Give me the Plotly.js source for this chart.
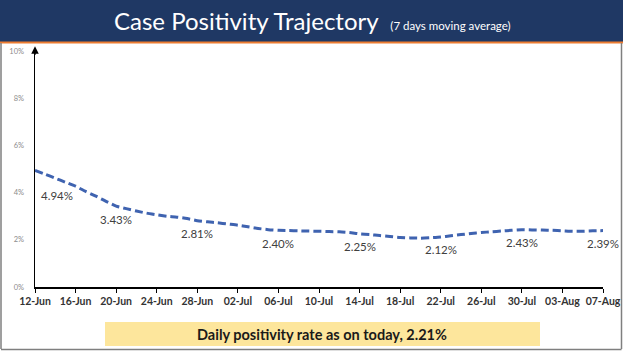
<!DOCTYPE html>
<html><head><meta charset="utf-8">
<script src="https://cdn.plot.ly/plotly-3.0.1.min.js"></script>
<style>html,body{margin:0;padding:0;background:#fff}#chart{width:623px;height:351px}</style>
</head><body><div id="chart"></div>
<script>
// Daily dates 12-Jun .. 07-Aug (2020)
const startDate = '2020-06-12';
const positivity = [4.94,4.78,4.61,4.44,4.27,4.05,3.85,3.63,3.43,3.32,3.22,3.13,3.06,3.00,2.96,2.90,2.81,2.76,2.72,2.67,2.62,2.55,2.48,2.43,2.40,2.39,2.38,2.37,2.36,2.35,2.34,2.31,2.25,2.22,2.18,2.14,2.10,2.08,2.07,2.09,2.12,2.17,2.22,2.27,2.31,2.34,2.37,2.40,2.43,2.42,2.41,2.40,2.38,2.36,2.36,2.38,2.39];
const labelIdx = [0,8,16,24,32,40,48,56];
const titleMain = 'Case Positivity Trajectory';
const titleSub = '(7 days moving average)';
const footerText = 'Daily positivity rate as on today, 2.21%';
const yTickVals = [0,2,4,6,8,10];
const yTickText = ['0%','2%','4%','6%','8%','10%'];

const DAY = 86400000;
const t0 = new Date(startDate + 'T00:00:00Z').getTime();
const dates = positivity.map((_, i) => new Date(t0 + i*DAY).toISOString().slice(0,10));

const W=623,H=351,L=35,R=20,T=51,B=64;
const pw=W-L-R, ph=H-T-B;
const px = x => (x-L)/pw;
const py = y => (H-B-y)/ph;

const annotations = labelIdx.map((i,k) => ({
  x: dates[i], y: positivity[i], xref:'x', yref:'y',
  text: positivity[i].toFixed(2)+'%', showarrow:false,
  xshift: k===0 ? 22 : 0, yshift: k===0 ? -25 : -13,
  font:{family:'Lato, sans-serif', size:11.5, color:'#404040'}
}));
annotations.push({
  xref:'paper', yref:'paper', x:px(312), y:py(21), xanchor:'center', yanchor:'middle', showarrow:false,
  text: titleMain + '  <span style="font-size:11.5px">' + titleSub + '</span>',
  font:{family:'Lato, sans-serif', size:24, color:'#ffffff'}
});
annotations.push({
  xref:'paper', yref:'paper', x:px(322), y:py(334), xanchor:'center', yanchor:'middle', showarrow:false,
  text: '<b>'+footerText+'</b>',
  font:{family:'Lato, sans-serif', size:14.5, color:'#1a1a1a'}
});
// y axis arrow head
annotations.push({
  xref:'paper', yref:'paper', x:0, y:1.02, ax:0, ay:10, axref:'pixel', ayref:'pixel',
  showarrow:true, arrowhead:2, arrowsize:1, arrowwidth:1.5, arrowcolor:'#000', text:''
});

const shapes = [
  {type:'rect', xref:'paper', yref:'paper', x0:px(0), x1:px(623), y0:py(42), y1:py(0), fillcolor:'#1f3864', line:{width:0}, layer:'below'},
  {type:'line', xref:'paper', yref:'paper', x0:px(0), x1:px(623), y0:py(42.5), y1:py(42.5), line:{color:'#ed7d31', width:2}},
  {type:'rect', xref:'paper', yref:'paper', x0:px(105), x1:px(540), y0:py(346), y1:py(322), fillcolor:'#fde69c', line:{width:0}, layer:'below'},
  {type:'line', xref:'paper', yref:'paper', x0:px(1), x1:px(1), y0:py(349), y1:py(43), line:{color:'#7f7f7f', width:1.5}},
  {type:'line', xref:'paper', yref:'paper', x0:px(621.5), x1:px(621.5), y0:py(349), y1:py(43), line:{color:'#7f7f7f', width:1.5}},
  {type:'line', xref:'paper', yref:'paper', x0:px(1), x1:px(621.5), y0:py(349.5), y1:py(349.5), line:{color:'#7f7f7f', width:1.5}}
];

const trace = {
  x: dates, y: positivity, type:'scatter', mode:'lines',
  line:{color:'#3f63b0', width:3, dash:'8px,4px', shape:'spline', smoothing:0.6},
  hoverinfo:'skip'
};

const layout = {
  width:W, height:H, margin:{l:L,r:R,t:T,b:B},
  paper_bgcolor:'#ffffff', plot_bgcolor:'#ffffff', showlegend:false,
  xaxis:{type:'date', range:[dates[0], dates[dates.length-1]], tick0:dates[0], dtick:4*DAY,
    tickformat:'%d-%b', showgrid:false, zeroline:false, showline:true, linecolor:'#000', linewidth:1.5,
    ticks:'outside', ticklen:4, tickcolor:'#000', tickwidth:1,
    tickfont:{family:'Lato, sans-serif', size:10.5, color:'#333', weight:'bold'}},
  yaxis:{range:[0,10], tickvals:yTickVals, ticktext:yTickText, showgrid:false, zeroline:false,
    showline:true, linecolor:'#000', linewidth:1.5, ticks:'', ticklabelstandoff:8,
    tickfont:{family:'Lato, sans-serif', size:7.5, color:'#8c8c8c'}},
  annotations, shapes
};
Plotly.newPlot('chart',[trace],layout,{displayModeBar:false,staticPlot:true});
</script></body></html>
